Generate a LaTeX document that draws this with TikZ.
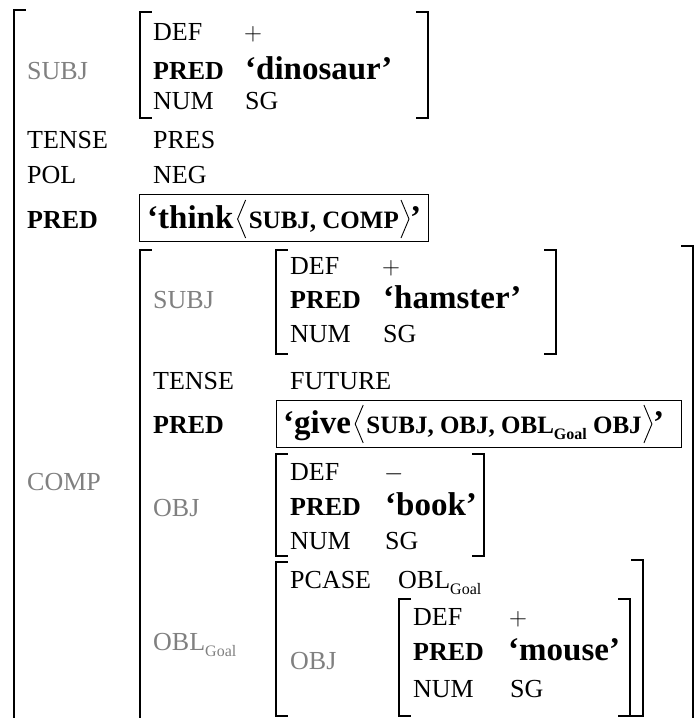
\documentclass[tikz,border=0pt]{standalone}
\usepackage{fontspec}
\setmainfont{Liberation Serif}
\definecolor{lblgray}{gray}{0.5}
\newcommand\attrsize{\fontsize{26}{31}\selectfont}
\newcommand\predsize{\fontsize{33}{39}\selectfont\bfseries}
\newcommand\argsize{\fontsize{25}{30}\selectfont\bfseries}
\newcommand\goalsub{\raisebox{-6pt}{\fontsize{16}{18}\selectfont Goal}}
% left and right AVM brackets: x, top, bottom
\newcommand\avmL[3]{\draw[brk] (#1+11,#2) -- (#1,#2) -- (#1,#3) -- (#1+11,#3);}
\newcommand\avmR[3]{\draw[brk] (#1-11,#2) -- (#1,#2) -- (#1,#3) -- (#1-11,#3);}
\tikzset{
  brk/.style={line width=1.3pt, line cap=rect},
  ang/.style={line width=0.9pt, line join=miter},
  attr/.style={anchor=base west, inner sep=0pt, font=\attrsize},
  gf/.style={attr, text=lblgray},
  battr/.style={attr, font=\attrsize\bfseries},
  pval/.style={anchor=base west, inner sep=0pt, font=\predsize},
  args/.style={anchor=base west, inner sep=0pt, font=\argsize},
  pbox/.style={draw, line width=1.3pt, inner sep=0pt, anchor=north west},
}
\begin{document}
\begin{tikzpicture}[x=1pt, y=-1pt]
\useasboundingbox (0,0) rectangle (697,718);

% outermost f-structure (open towards the bottom)
\draw[brk] (25,10) -- (14,10) -- (14,720);

% SUBJ of the main clause
\node[gf] (s1) at (27,79) {SUBJ};
\avmL{140}{12}{118}
\avmR{428}{12}{118}
\node[attr] (s1def) at (153,40) {DEF};
\node[attr] (s1defv) at (244,40) {$+$};
\node[battr] (s1pred) at (153,79) {PRED};
\node[pval] (s1predv) at (245,79) {‘dinosaur’};
\node[attr] (s1num) at (153,109) {NUM};
\node[attr] (s1numv) at (245,109) {SG};

\node[attr] (tense1) at (27,148) {TENSE};
\node[attr] (tense1v) at (153,148) {PRES};
\node[attr] (pol1) at (27,183) {POL};
\node[attr] (pol1v) at (153,183) {NEG};

% main PRED with its argument list
\node[battr] (pred1) at (27,228) {PRED};
\node[pbox, minimum width=289pt, minimum height=47pt] (thinkbox) at (139,194) {};
\node[pval] (think) at (147,228) {‘think};
\path (think.base east) ++(4,0) coordinate (t1a);
\draw[ang] (t1a) ++(8,-28) -- ++(-8,19) -- ++(8,19);
\node[args] (thinkargs) at ([xshift=11pt]t1a) {SUBJ, COMP};
\path (thinkargs.base east) ++(2,0) coordinate (t2a);
\draw[ang] (t2a) ++(0,-28) -- ++(8,19) -- ++(-8,19);
\node[pval] (thinkq) at ([xshift=9pt]t2a) {’};

% COMP
\node[gf] (comp) at (27,490) {COMP};
\draw[brk] (151,250) -- (140,250) -- (140,720);
\draw[brk] (682,246) -- (693,246) -- (693,720);

% SUBJ of COMP
\node[gf] (s2) at (153,308) {SUBJ};
\avmL{276}{250}{354}
\avmR{556}{250}{354}
\node[attr] (s2def) at (290,274) {DEF};
\node[attr] (s2defv) at (382,274) {$+$};
\node[battr] (s2pred) at (290,308) {PRED};
\node[pval] (s2predv) at (383,308) {‘hamster’};
\node[attr] (s2num) at (290,342) {NUM};
\node[attr] (s2numv) at (383,342) {SG};

\node[attr] (tense2) at (153,389) {TENSE};
\node[attr] (tense2v) at (290,389) {FUTURE};

% PRED of COMP
\node[battr] (pred2) at (153,433) {PRED};
\node[pbox, minimum width=405pt, minimum height=47pt] (givebox) at (276,400) {};
\node[pval] (give) at (283,433) {‘give};
\path (give.base east) ++(4,0) coordinate (g1a);
\draw[ang] (g1a) ++(8,-28) -- ++(-8,19) -- ++(8,19);
\node[args] (giveargs) at ([xshift=11pt]g1a) {SUBJ, OBJ, OBL\goalsub\ OBJ};
\path (giveargs.base east) ++(2,0) coordinate (g2a);
\draw[ang] (g2a) ++(0,-28) -- ++(8,19) -- ++(-8,19);
\node[pval] (giveq) at ([xshift=9pt]g2a) {’};

% OBJ of COMP
\node[gf] (o2) at (153,516) {OBJ};
\avmL{276}{454}{556}
\avmR{484}{454}{556}
\node[attr] (o2def) at (290,480) {DEF};
\node[attr] (o2defv) at (384,480) {$-$};
\node[battr] (o2pred) at (290,515) {PRED};
\node[pval] (o2predv) at (385,515) {‘book’};
\node[attr] (o2num) at (290,549) {NUM};
\node[attr] (o2numv) at (385,549) {SG};

% OBL_Goal of COMP
\node[gf] (obl) at (153,650) {OBL\goalsub};
\avmL{276}{562}{716}
\avmR{643}{560}{716}
\node[attr] (pcase) at (290,588) {PCASE};
\node[attr] (pcasev) at (398,588) {OBL\goalsub};
\node[gf] (o3) at (290,669) {OBJ};
\avmL{399}{599}{716}
\avmR{630}{599}{716}
\node[attr] (o3def) at (413,625) {DEF};
\node[attr] (o3defv) at (509,625) {$+$};
\node[battr] (o3pred) at (413,660) {PRED};
\node[pval] (o3predv) at (508,660) {‘mouse’};
\node[attr] (o3num) at (413,697) {NUM};
\node[attr] (o3numv) at (510,697) {SG};
\end{tikzpicture}
\end{document}
